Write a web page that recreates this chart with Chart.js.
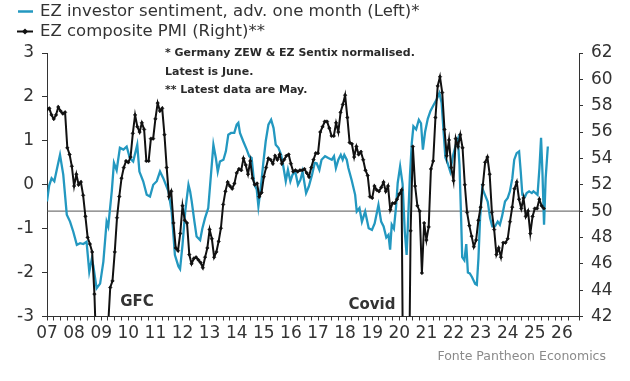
<!DOCTYPE html>
<html>
<head>
<meta charset="utf-8">
<script src="https://cdn.jsdelivr.net/npm/chart.js@4.4.1/dist/chart.umd.min.js"></script>
<style>
  html, body { margin: 0; padding: 0; background: #ffffff; }
  #wrap { width: 630px; height: 381px; }
</style>
</head>
<body>
<div id="wrap"><canvas id="c" width="630" height="381"></canvas></div>
<script>
// ---------------- DATA ----------------
const seriesNames = [
  'EZ investor sentiment, adv. one month (Left)*',
  'EZ composite PMI (Right)**'
];
const notes = [
  '* Germany ZEW & EZ Sentix normalised.',
  'Latest is June.',
  '** Latest data are May.'
];
const eventLabels = ['GFC', 'Covid'];
const eventDates = [2010.32, 2018.99];
const eventLevels = [-2.67, -2.74];
const sourceText = 'Fonte Pantheon Economics';

// x-axis tick labels (year starts 2007..2026)
const xTickLabels = ['07','08','09','10','11','12','13','14','15','16',
                     '17','18','19','20','21','22','23','24','25','26'];
const xFirstYear = 2007;
const xMin = 2007.0;
const xMax = 2026.63;
const leftTicks = [-3, -2, -1, 0, 1, 2, 3];
const rightTicks = [42, 44, 46, 48, 50, 52, 54, 56, 58, 60, 62];
const refLevel = 50;

// EZ investor sentiment (left axis), dates in decimal years
const sentDates = [
 2007.00,2007.08,2007.17,2007.27,2007.38,2007.48,2007.60,2007.73,2007.85,2007.97,
 2008.10,2008.22,2008.34,2008.46,2008.56,2008.65,2008.71,2008.83,2008.96,
 2009.08,2009.20,2009.26,2009.39,2009.47,2009.57,2009.69,2009.82,2009.94,
 2010.06,2010.18,2010.33,2010.41,2010.55,2010.68,2010.80,2010.92,
 2011.05,2011.17,2011.29,2011.48,2011.60,2011.72,2011.85,2011.91,
 2012.00,2012.10,2012.16,2012.22,2012.28,2012.34,2012.44,2012.52,2012.65,2012.73,2012.83,2012.95,
 2013.05,2013.14,2013.23,2013.30,2013.38,2013.51,2013.60,2013.69,2013.79,2013.91,
 2014.00,2014.06,2014.12,2014.24,2014.37,2014.46,2014.55,2014.65,2014.74,2014.80,2014.90,2014.98,
 2015.07,2015.17,2015.27,2015.36,2015.44,2015.54,2015.64,2015.73,2015.81,2015.89,2015.98,
 2016.06,2016.16,2016.26,2016.35,2016.43,2016.56,2016.66,2016.78,2016.88,2016.95,
 2017.05,2017.13,2017.26,2017.38,2017.51,2017.59,2017.66,2017.75,2017.84,2017.91,2017.97,
 2018.06,2018.12,2018.24,2018.37,2018.43,2018.53,2018.62,2018.74,2018.87,2018.99,
 2019.09,2019.23,2019.33,2019.42,2019.52,2019.60,2019.66,2019.72,2019.80,2019.88,2019.94,
 2020.03,2020.12,2020.20,2020.27,2020.33,2020.39,2020.46,2020.52,2020.62,2020.72,2020.80,2020.87,2020.95,
 2021.05,2021.15,2021.25,2021.36,2021.48,2021.56,2021.62,2021.70,2021.78,2021.88,2021.98,
 2022.08,2022.16,2022.22,2022.28,2022.32,2022.40,2022.47,2022.53,2022.60,2022.68,2022.80,2022.86,2022.92,2022.98,
 2023.06,2023.16,2023.26,2023.35,2023.43,2023.53,2023.63,2023.71,2023.79,2023.90,
 2024.00,2024.08,2024.17,2024.24,2024.33,2024.42,2024.48,2024.54,2024.64,2024.70,2024.79,2024.89,2024.95,
 2025.03,2025.10,2025.17,2025.23,2025.28,2025.34,2025.40,2025.48
];
const sentValues = [
 -0.38,-0.02,0.15,0.08,0.40,0.68,0.23,-0.68,-0.84,-1.07,
 -1.37,-1.33,-1.35,-1.30,-1.98,-1.70,-1.85,-2.36,-2.25,
 -1.75,-0.84,-0.95,-0.15,0.50,0.33,0.84,0.80,0.87,
 0.60,0.53,0.91,0.30,0.08,-0.23,-0.27,0.00,
 0.08,0.30,0.15,-0.15,-0.61,-1.60,-1.86,-1.92,
 -1.37,-0.61,-0.30,0.00,-0.15,-0.38,-0.84,-1.18,-1.26,-1.00,-0.76,-0.53,
 0.23,0.91,0.61,0.30,0.53,0.57,0.76,1.14,1.18,1.18,
 1.37,1.41,1.18,0.99,0.80,0.65,0.61,0.00,-0.11,-0.49,0.00,0.49,
 0.99,1.37,1.48,1.29,0.91,0.84,0.68,0.38,0.08,0.34,0.08,
 0.23,0.30,0.00,0.11,0.30,-0.19,-0.04,0.23,0.50,0.49,
 0.34,0.57,0.65,0.61,0.57,0.65,0.38,0.57,0.68,0.57,0.68,
 0.57,0.38,0.11,-0.23,-0.61,-0.53,-0.84,-0.61,-0.99,-1.03,
 -0.88,-0.46,-0.84,-0.95,-1.20,-1.14,-1.48,-0.91,-1.00,-0.50,0.04,
 0.42,0.02,-1.05,-1.60,-0.72,0.19,0.95,1.33,1.26,1.48,1.40,0.80,1.20,
 1.50,1.68,1.80,1.92,2.09,1.87,1.33,0.62,0.50,0.30,0.66,
 0.90,1.04,0.45,-0.76,-1.65,-1.72,-1.35,-2.00,-2.02,-2.10,-2.26,-2.28,-1.67,-0.76,
 -0.08,-0.23,-0.38,-0.76,-0.95,-0.95,-0.84,-0.91,-0.72,-0.38,
 -0.30,-0.15,0.15,0.57,0.72,0.76,0.30,-0.23,-0.27,-0.19,-0.15,-0.19,-0.15,
 -0.19,-0.23,0.38,1.07,0.30,-0.91,0.15,0.87
];

// EZ composite PMI (right axis), monthly from Jan 2007 to May 2025
const pmiStartYear = 2007;
const pmiValues = [
 57.7,57.8,57.3,57.0,57.3,57.9,57.6,57.4,57.5,54.8,54.3,53.4, // 2007
 51.9,52.8,52.0,52.2,51.2,49.6,48.0,47.5,46.9,43.7,38.5,38.0, // 2008
 36.5,36.2,38.3,41.1,44.2,44.7,46.9,49.5,51.1,52.5,53.3,53.8, // 2009
 53.7,54.1,55.9,57.3,56.4,56.0,56.7,56.2,53.8,53.8,55.5,55.5, // 2010
 57.0,58.2,57.6,57.8,55.8,53.3,51.1,51.5,49.1,47.2,47.0,48.3, // 2011
 50.4,49.3,49.1,46.7,46.0,46.4,46.5,46.3,46.1,45.7,46.5,47.2, // 2012
 48.6,47.9,46.5,46.9,47.7,48.7,50.5,51.5,52.2,51.9,51.7,52.1, // 2013
 52.9,53.2,53.1,54.0,53.5,52.8,53.8,52.5,52.0,52.1,51.1,51.4, // 2014
 52.6,53.3,54.0,53.9,53.6,54.2,53.9,54.3,53.6,53.9,54.2,54.3, // 2015
 53.6,53.0,53.1,53.0,53.1,53.1,53.2,52.9,52.6,53.3,53.9,54.4, // 2016
 54.4,56.0,56.4,56.8,56.8,56.3,55.7,55.7,56.7,56.0,57.5,58.1, // 2017
 58.8,57.1,55.2,55.1,54.1,54.9,54.3,54.5,53.9,53.1,52.7,51.1, // 2018
 51.0,51.9,51.6,51.5,51.8,52.2,51.5,51.9,50.1,50.6,50.6,50.9, // 2019
 51.3,51.6,29.7,13.6,31.9,48.5,54.9,51.9,50.4,50.0,45.3,49.1, // 2020
 47.8,48.8,53.2,53.8,57.1,59.5,60.2,59.0,56.2,54.2,55.4,53.3, // 2021
 52.3,55.5,54.9,55.8,54.8,52.0,49.9,48.9,48.1,47.3,47.8,49.3, // 2022
 50.3,52.0,53.7,54.1,52.8,49.9,48.6,46.7,47.2,46.5,47.6,47.6, // 2023
 47.9,49.2,50.3,51.7,52.2,50.9,50.2,51.0,49.6,50.0,48.3,49.6, // 2024
 50.2,50.2,50.9,50.4,50.2                                      // 2025
];

// ---------------- STYLE ----------------
const BLUE = '#2398c0';
const INK = '#333333';
const FONT = '"DejaVu Sans", "Liberation Sans", sans-serif';

const sentPoints = sentDates.map((t, i) => ({ x: t, y: sentValues[i] }));
const pmiPoints = pmiValues.map((v, i) => ({
  x: pmiStartYear + Math.floor(i / 12) + (i % 12) / 12,
  y: v
}));

function drawMarker(ctx, x, y, r) {
  ctx.beginPath();
  ctx.moveTo(x, y - r); ctx.lineTo(x + r, y); ctx.lineTo(x, y + r); ctx.lineTo(x - r, y);
  ctx.closePath(); ctx.fill();
}

const textPlugin = {
  id: 'texts',
  afterDraw(chart) {
    const ctx = chart.ctx;
    const xs = chart.scales.x, yl = chart.scales.yL;
    ctx.save();
    // legend
    ctx.textBaseline = 'middle';
    ctx.textAlign = 'left';
    ctx.font = '16.5px ' + FONT;
    ctx.fillStyle = INK;
    ctx.strokeStyle = BLUE; ctx.lineWidth = 2.5;
    ctx.beginPath(); ctx.moveTo(18, 11.5); ctx.lineTo(33, 11.5); ctx.stroke();
    ctx.fillText(seriesNames[0], 40, 12);
    ctx.strokeStyle = '#111'; ctx.lineWidth = 2;
    ctx.beginPath(); ctx.moveTo(17, 31.5); ctx.lineTo(33, 31.5); ctx.stroke();
    ctx.fillStyle = '#111'; drawMarker(ctx, 25, 31.5, 3);
    ctx.fillStyle = INK;
    ctx.fillText(seriesNames[1], 40, 32);
    // notes
    ctx.font = 'bold 11px ' + FONT;
    ctx.fillStyle = '#2a2a2a';
    ctx.fillText(notes[0], 165, 53);
    ctx.fillText(notes[1], 165, 72);
    ctx.fillText(notes[2], 165, 90);
    // event labels
    ctx.font = 'bold 15px ' + FONT;
    ctx.fillStyle = '#333';
    ctx.textAlign = 'center';
    for (let i = 0; i < eventLabels.length; i++) {
      const px = xs.getPixelForValue(eventDates[i]);
      const py = yl.getPixelForValue(eventLevels[i]);
      ctx.fillText(eventLabels[i], px, py);
    }
    // source
    ctx.font = '12.5px ' + FONT;
    ctx.fillStyle = '#8a8a8a';
    ctx.textAlign = 'right';
    ctx.fillText(sourceText, 606, 357);
    ctx.restore();
  }
};

const axisCommon = {
  border: { display: true, color: '#333', width: 1 },
  grid: { display: true, drawOnChartArea: false, drawTicks: true, tickLength: 4, color: '#333', lineWidth: 1 },
};

new Chart(document.getElementById('c'), {
  type: 'line',
  data: {
    datasets: [
      {
        label: seriesNames[0], data: sentPoints, yAxisID: 'yL',
        borderColor: BLUE, borderWidth: 2.3, pointRadius: 0, tension: 0, order: 1
      },
      {
        label: seriesNames[1], data: pmiPoints, yAxisID: 'yR',
        borderColor: '#111', borderWidth: 2, tension: 0, order: 0,
        pointRadius: 1.8, pointStyle: 'rectRot', pointBackgroundColor: '#111',
        pointBorderColor: '#111', pointBorderWidth: 0.5
      },
      {
        label: 'ref', data: [{ x: xMin, y: refLevel }, { x: xMax, y: refLevel }], yAxisID: 'yR',
        borderColor: '#555', borderWidth: 1, pointRadius: 0, order: 2
      }
    ]
  },
  options: {
    responsive: false,
    animation: false,
    devicePixelRatio: 1,
    layout: { padding: { top: 53, left: 0, right: 0, bottom: 0 } },
    plugins: { legend: { display: false }, tooltip: { enabled: false } },
    scales: {
      x: {
        type: 'linear', min: xMin, max: xMax,
        ...axisCommon,
        ticks: {
          stepSize: 0.25, autoSkip: false, maxRotation: 0, minRotation: 0,
          color: INK, font: { family: FONT, size: 17 }, padding: 3,
          callback: (v) => {
            const r = Math.round(v);
            if (Math.abs(v - r) > 1e-6) return '';
            const idx = r - xFirstYear;
            return (idx >= 0 && idx < xTickLabels.length) ? xTickLabels[idx] : '';
          }
        },
        afterFit: (s) => { s.height = 64.5; }
      },
      yL: {
        type: 'linear', position: 'left', min: leftTicks[0], max: leftTicks[leftTicks.length - 1],
        ...axisCommon,
        grid: { ...axisCommon.grid, tickLength: 5 },
        ticks: { stepSize: 1, color: INK, font: { family: FONT, size: 17 }, padding: 8 },
        afterFit: (s) => { s.width = 47; }
      },
      yR: {
        type: 'linear', position: 'right', min: rightTicks[0], max: rightTicks[rightTicks.length - 1],
        ...axisCommon,
        grid: { ...axisCommon.grid, tickLength: 4 },
        ticks: { stepSize: 2, color: INK, font: { family: FONT, size: 17 }, padding: 8 },
        afterFit: (s) => { s.width = 51; }
      }
    }
  },
  plugins: [textPlugin]
});
</script>
</body>
</html>
